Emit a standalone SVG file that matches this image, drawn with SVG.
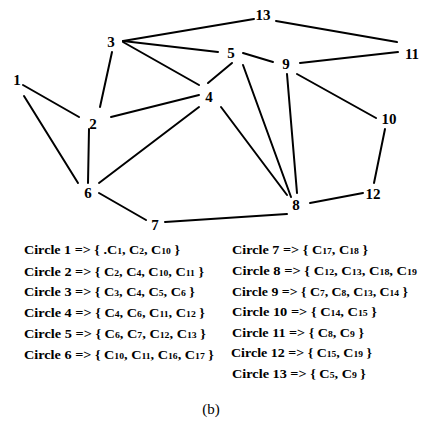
<svg xmlns="http://www.w3.org/2000/svg" width="421" height="424" viewBox="0 0 421 424">
<style>
.e{stroke:#000;stroke-width:2;fill:none;stroke-linecap:round}
.n{font-family:"Liberation Serif",serif;font-weight:bold;font-size:15px;text-anchor:middle;fill:#000}
.t{font-family:"Liberation Serif",serif;font-weight:bold;font-size:12.5px;fill:#000}
.s{font-size:8.5px}
.c{font-family:"Liberation Serif",serif;font-size:15px;text-anchor:middle;fill:#000}
</style>
<rect width="421" height="424" fill="#fff"/>
<g id="edges">
<line class="e" x1="23" y1="85" x2="79" y2="117"/>
<line class="e" x1="24" y1="96" x2="78" y2="183"/>
<line class="e" x1="112" y1="52" x2="100" y2="107"/>
<line class="e" x1="89" y1="129" x2="88" y2="183"/>
<line class="e" x1="111" y1="117" x2="199" y2="95"/>
<line class="e" x1="99" y1="183" x2="199" y2="107"/>
<line class="e" x1="99" y1="193" x2="146" y2="220"/>
<line class="e" x1="123" y1="41" x2="254" y2="19"/>
<line class="e" x1="123" y1="41" x2="218" y2="52"/>
<line class="e" x1="123" y1="42" x2="199" y2="85"/>
<line class="e" x1="232" y1="63" x2="208" y2="83"/>
<line class="e" x1="243" y1="53" x2="273" y2="62"/>
<line class="e" x1="243" y1="65" x2="291" y2="197"/>
<line class="e" x1="221" y1="107" x2="287" y2="195"/>
<line class="e" x1="287" y1="74" x2="297" y2="193"/>
<line class="e" x1="300" y1="63" x2="398" y2="52"/>
<line class="e" x1="297" y1="74" x2="376" y2="118"/>
<line class="e" x1="385" y1="129" x2="374" y2="183"/>
<line class="e" x1="310" y1="203" x2="363" y2="193"/>
<line class="e" x1="165" y1="222" x2="287" y2="214"/>
<line class="e" x1="276" y1="21" x2="397" y2="42"/>
</g>
<g id="n1"><text class="n" x="17" y="85">1</text></g>
<g id="n2"><text class="n" x="93" y="129">2</text></g>
<g id="n3"><text class="n" x="111" y="47">3</text></g>
<g id="n4"><text class="n" x="209" y="102">4</text></g>
<g id="n5"><text class="n" x="231" y="58">5</text></g>
<g id="n6"><text class="n" x="88" y="198">6</text></g>
<g id="n7"><text class="n" x="155" y="230">7</text></g>
<g id="n8"><text class="n" x="296" y="210">8</text></g>
<g id="n9"><text class="n" x="286" y="69">9</text></g>
<g id="n10"><text class="n" x="389" y="124">10</text></g>
<g id="n11"><text class="n" x="412" y="59">11</text></g>
<g id="n12"><text class="n" x="373" y="199">12</text></g>
<g id="n13"><text class="n" x="263" y="20">13</text></g>
<g id="legend">
<text class="t" x="24" y="254" textLength="156" lengthAdjust="spacingAndGlyphs">Circle 1 =&gt; { .C<tspan class="s">1</tspan>, C<tspan class="s">2</tspan>, C<tspan class="s">10</tspan> }</text>
<text class="t" x="24" y="276" textLength="180" lengthAdjust="spacingAndGlyphs">Circle 2 =&gt; { C<tspan class="s">2</tspan>, C<tspan class="s">4</tspan>, C<tspan class="s">10</tspan>, C<tspan class="s">11</tspan> }</text>
<text class="t" x="24" y="296" textLength="171" lengthAdjust="spacingAndGlyphs">Circle 3 =&gt; { C<tspan class="s">3</tspan>, C<tspan class="s">4</tspan>, C<tspan class="s">5</tspan>, C<tspan class="s">6</tspan> }</text>
<text class="t" x="24" y="317" textLength="181" lengthAdjust="spacingAndGlyphs">Circle 4 =&gt; { C<tspan class="s">4</tspan>, C<tspan class="s">6</tspan>, C<tspan class="s">11</tspan>, C<tspan class="s">12</tspan> }</text>
<text class="t" x="24" y="338" textLength="182" lengthAdjust="spacingAndGlyphs">Circle 5 =&gt; { C<tspan class="s">6</tspan>, C<tspan class="s">7</tspan>, C<tspan class="s">12</tspan>, C<tspan class="s">13</tspan> }</text>
<text class="t" x="24" y="359" textLength="190" lengthAdjust="spacingAndGlyphs">Circle 6 =&gt; { C<tspan class="s">10</tspan>, C<tspan class="s">11</tspan>, C<tspan class="s">16</tspan>, C<tspan class="s">17</tspan> }</text>
<text class="t" x="232" y="254" textLength="136" lengthAdjust="spacingAndGlyphs">Circle 7 =&gt; { C<tspan class="s">17</tspan>, C<tspan class="s">18</tspan> }</text>
<text class="t" x="232" y="275" textLength="185" lengthAdjust="spacingAndGlyphs">Circle 8 =&gt; { C<tspan class="s">12</tspan>, C<tspan class="s">13</tspan>, C<tspan class="s">18</tspan>, C<tspan class="s">19</tspan></text>
<text class="t" x="232" y="296" textLength="176" lengthAdjust="spacingAndGlyphs">Circle 9 =&gt; { C<tspan class="s">7</tspan>, C<tspan class="s">8</tspan>, C<tspan class="s">13</tspan>, C<tspan class="s">14</tspan> }</text>
<text class="t" x="232" y="316" textLength="145" lengthAdjust="spacingAndGlyphs">Circle 10 =&gt; { C<tspan class="s">14</tspan>, C<tspan class="s">15</tspan> }</text>
<text class="t" x="232" y="337" textLength="132" lengthAdjust="spacingAndGlyphs">Circle 11 =&gt; { C<tspan class="s">8</tspan>, C<tspan class="s">9</tspan> }</text>
<text class="t" x="231" y="357" textLength="141" lengthAdjust="spacingAndGlyphs">Circle 12 =&gt; { C<tspan class="s">15</tspan>, C<tspan class="s">19</tspan> }</text>
<text class="t" x="232" y="378" textLength="134" lengthAdjust="spacingAndGlyphs">Circle 13 =&gt; { C<tspan class="s">5</tspan>, C<tspan class="s">9</tspan> }</text>
</g>
<text class="c" x="211" y="414">(b)</text>
</svg>
